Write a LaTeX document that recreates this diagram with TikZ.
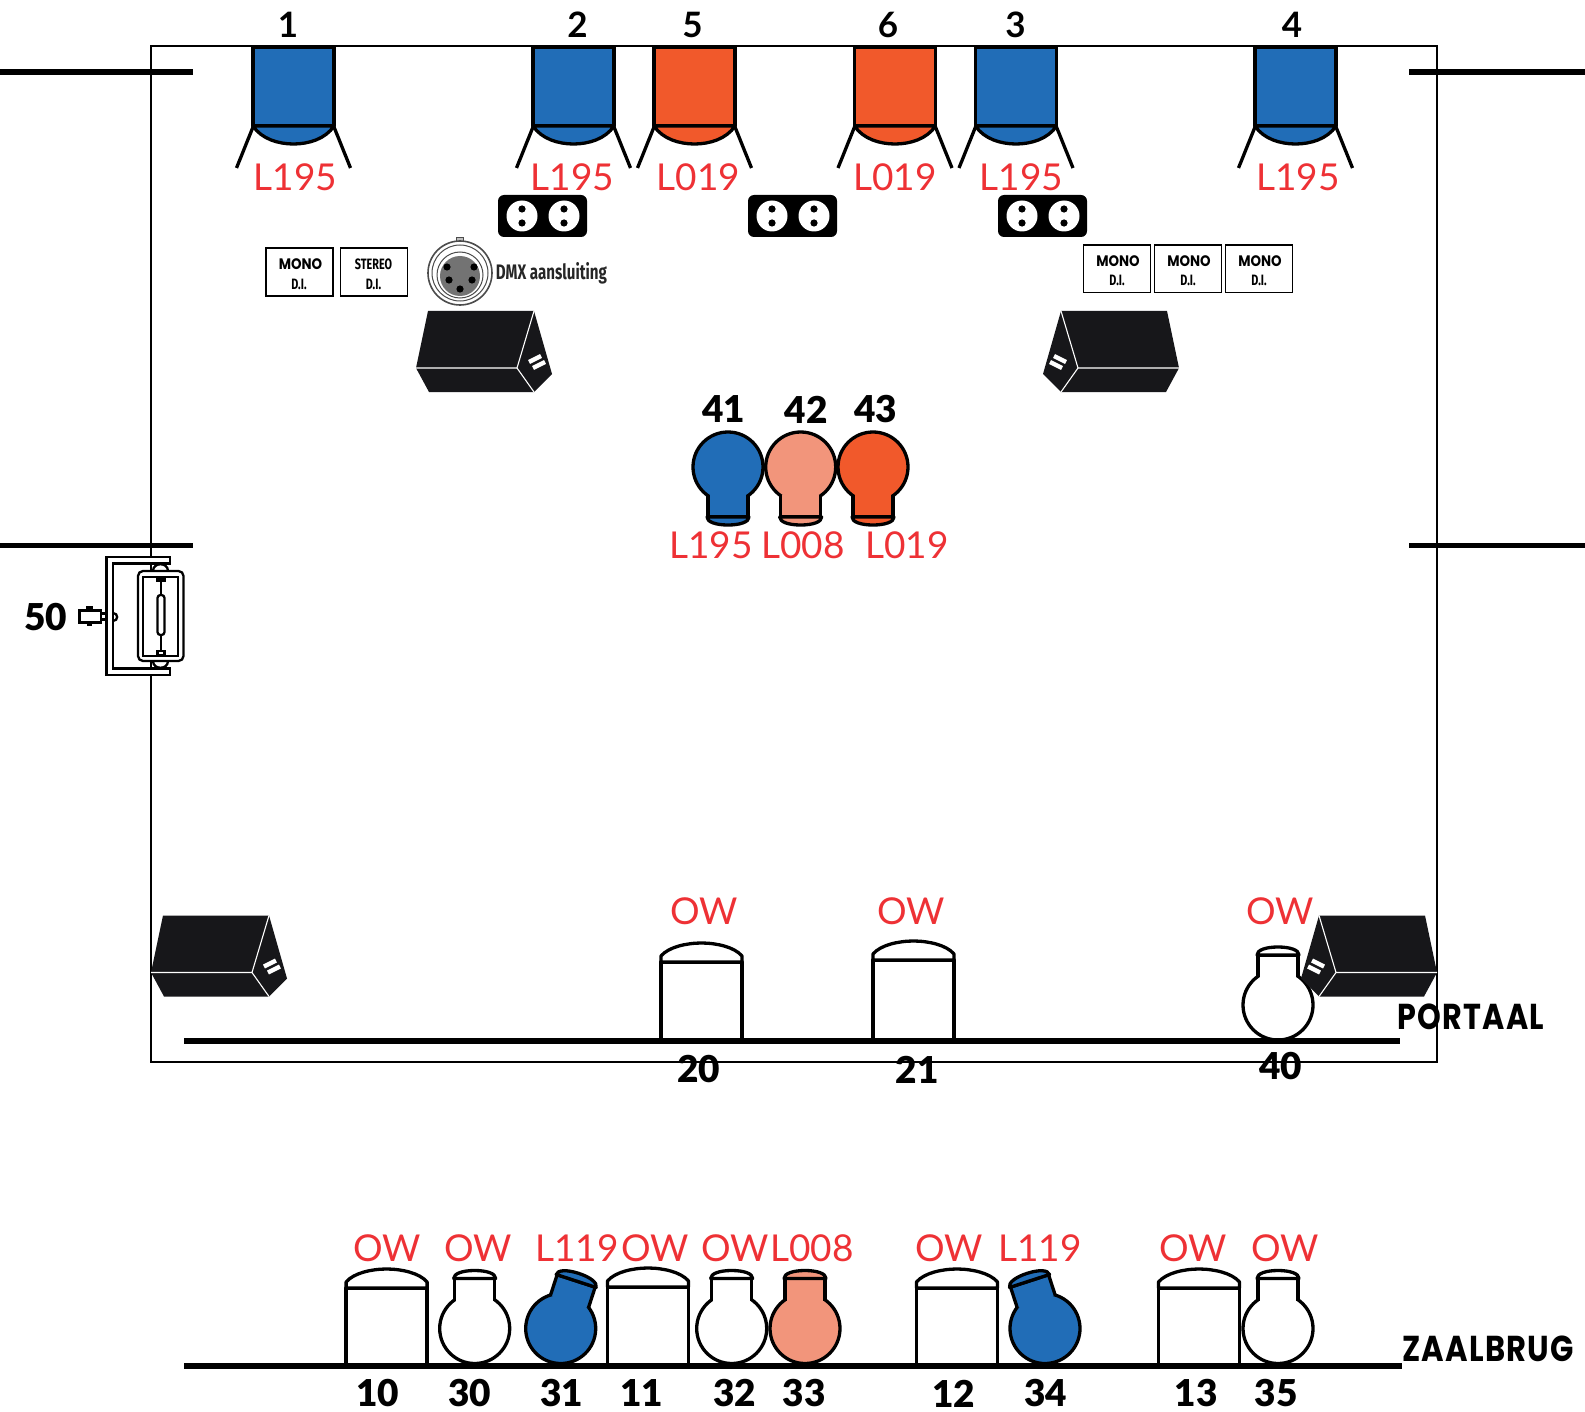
\documentclass[tikz,border=0pt]{standalone}
\usepackage{fontspec}
\usepackage{graphicx}
\setmainfont{Lato}
\newfontfamily\numfont{Lato Black}
\newfontfamily\geofont{Poppins}
\newfontfamily\geowide[LetterSpace=4]{Poppins}
\newfontfamily\condfont{Fira Sans}
\definecolor{lblue}{HTML}{216DB7}
\definecolor{lorange}{HTML}{F1592B}
\definecolor{lsalmon}{HTML}{F2957B}
\definecolor{lred}{HTML}{EE3135}
\definecolor{spk}{HTML}{17171A}
\newcommand{\sxx}[2]{\scalebox{#1}[1]{#2}}
\newcommand{\redl}[4]{\node[redlabel] (#1) at (#2,#3) {#4};}
\newcommand{\numl}[4]{\node[numlabel] (#1) at (#2,#3) {#4};}
\newcommand{\topl}[4]{\node[toplabel] (#1) at (#2,#3) {#4};}
\newcommand{\dibx}[3]{\node[diframe,anchor=north west] (#1) at (#2,#3) {};}
\newcommand{\dimono}[7]{%
  \node[ditop] (#1a) at (#2,#3) {\sxx{.88}{MONO}};
  \node[dibot] (#1b) at (#4,#5) {\sxx{.72}{D.I.}};}
\newcommand{\sockets}[2]{\pic at (#1,#2) {socketpair};}
\tikzset{
  x=0.5pt,y=-0.5pt,
  redlabel/.style={text=lred,inner sep=0pt,font=\fontsize{18.5}{20}\selectfont},
  numlabel/.style={text=black,inner sep=0pt,font=\numfont\fontsize{18.5}{20}\selectfont},
  toplabel/.style={text=black,inner sep=0pt,font=\bfseries\fontsize{17.5}{20}\selectfont},
  diframe/.style={draw=black,line width=0.8pt,fill=white,inner sep=0pt,minimum width=33.6pt,minimum height=23.8pt},
  ditop/.style={inner sep=0pt,font=\geofont\bfseries\fontsize{7.6}{9}\selectfont},
  dibot/.style={inner sep=0pt,font=\condfont\bfseries\fontsize{7.5}{9}\selectfont},
  outl/.style={draw=black,line width=1.65pt,line join=round},
  bar/.style={draw=black,line width=2.6pt},
  pics/bulb/.style={code={
    \path[outl,fill=#1] (0,0) circle[radius=35];
    \path[outl,fill=#1] (-20,-28) -- (-20,-50) -- (20,-50) -- (20,-28);
    \path[outl,fill=#1] (-21,-50) .. controls (-21,-55) and (-12,-58) .. (0,-58) .. controls (12,-58) and (21,-55) .. (21,-50) -- cycle;
  }},
  pics/hanglamp/.style={code={
    \path[outl,fill=#1] (-40.5,0) rectangle (40.5,79);
    \path[outl,fill=#1] (-40.5,79) .. controls (-32,92) and (-15,97) .. (0,97) .. controls (15,97) and (32,92) .. (40.5,79) -- cycle;
    \path[outl] (-40.5,80) -- (-57,121);
    \path[outl] (40.5,80) -- (57,121);
  }},
  pics/drum/.style={code={
    \path[outl,fill=white] (-40.5,79) -- (-40.5,0) -- (40.5,0) -- (40.5,79);
    \path[outl,fill=white] (-40.5,0) -- (-40.5,-6) .. controls (-33,-15) and (-15,-19) .. (0,-19) .. controls (15,-19) and (33,-15) .. (40.5,-6) -- (40.5,0) -- cycle;
  }},
  pics/speaker/.style={code={
    \path[fill=spk] (12,-57) -- (118,-57) -- (136,6) -- (118,24) -- (13,24) -- (0,0) -- cycle;
    \path[draw=white,line width=0.55pt] (0,0) -- (101,0) -- (118,-57);
    \path[draw=white,line width=0.55pt] (101,0) -- (118,24);
    \path[draw=white,line width=2.2pt] (113,-6) -- (125,-12);
    \path[draw=white,line width=2.2pt] (117,0) -- (129,-6);
  }},
  pics/socketpair/.style={code={
    \path[fill=black,rounded corners=3pt] (0,0) rectangle (89,42);
    \foreach \cx in {24,66}{
      \path[fill=white] (\cx,21) circle[radius=15.5];
      \path[fill=black] (\cx,14) circle[radius=3.6];
      \path[fill=black] (\cx,28) circle[radius=3.6];
    }
  }},
}
\begin{document}
\begin{tikzpicture}
\useasboundingbox (0,0) rectangle (1585,1412);
\path[fill=white] (0,0) rectangle (1585,1412);
% frame and side bars
\path[draw=black,line width=1pt] (151,46.5) rectangle (1437,1062);
\path[bar] (0,72) -- (192.5,72);
\path[bar] (0,545.5) -- (192.5,545.5);
\path[bar] (1409,72) -- (1585,72);
\path[bar] (1409,545.5) -- (1585,545.5);
% hanging lamps
\pic at (293.5,47) {hanglamp=lblue};
\pic at (573.5,47) {hanglamp=lblue};
\pic at (694.5,47) {hanglamp=lorange};
\pic at (895,47) {hanglamp=lorange};
\pic at (1016,47) {hanglamp=lblue};
\pic at (1295.5,47) {hanglamp=lblue};
\topl{t1}{288}{25}{1}
\topl{t2}{577.5}{25}{2}
\topl{t5}{692.5}{25}{5}
\topl{t6}{888}{25}{6}
\topl{t3}{1015.5}{25}{3}
\topl{t4}{1292}{25}{4}
\redl{r1}{295.5}{177.5}{L195}
\redl{r2}{572.5}{177.5}{L195}
\redl{r5}{698.5}{177.5}{L019}
\redl{r6}{895}{177.5}{L019}
\redl{r3}{1021.5}{177.5}{L195}
\redl{r4}{1298}{177.5}{L195}
% sockets
\sockets{498}{195}
\sockets{748}{195}
\sockets{998}{195}
% DI boxes
\dibx{da}{265}{247.5}
\dimono{da}{300.5}{264.5}{299}{284}{}{}
\dibx{db}{339.5}{247.5}
\node[dibot] (dbt) at (373.5,264) {\sxx{.72}{STEREO}};
\node[dibot] (dbd) at (373.5,284) {\sxx{.72}{D.I.}};
\dibx{dc}{1082.5}{244}
\dimono{dc}{1118}{261}{1117}{280}{}{}
\dibx{dd}{1153.5}{244}
\dimono{dd}{1189}{261}{1188}{280}{}{}
\dibx{de}{1224.5}{244}
\dimono{de}{1260}{261}{1259}{280}{}{}
% DMX connector
\path[draw=black!70,line width=0.5pt,fill=black!25] (456,238) rectangle (463,244);
\path[draw=black!70,line width=0.8pt,fill=white] (460,273) circle[radius=32];
\path[draw=black!70,line width=0.5pt] (460,273) circle[radius=28];
\path[draw=black!70,line width=0.5pt] (460,275) circle[radius=23];
\path[fill=black!55] (460,276) circle[radius=20];
\foreach \px/\py in {447/267,474/267,449/280,472/280,460/289}{
  \path[fill=black] (\px,\py) circle[radius=3.6];
}
\node[inner sep=0pt,anchor=west,font=\condfont\bfseries\fontsize{10.5}{12}\selectfont,text=black!85] (dmx) at (495.5,273) {\sxx{.72}{DMX aansluiting}};
% speakers
\pic at (416,368) {speaker};
\pic[xscale=-1] at (1179,368) {speaker};
\pic at (151,972.5) {speaker};
% centre bulbs
\pic[rotate=180] at (728,467) {bulb=lblue};
\pic[rotate=180] at (800.7,467) {bulb=lsalmon};
\pic[rotate=180] at (873,467) {bulb=lorange};
\numl{n41}{723.5}{409.5}{41}
\numl{n42}{806}{409.5}{42}
\numl{n43}{875.5}{409.5}{43}
\redl{r41}{711}{545.5}{L195}
\redl{r42}{803}{545.5}{L008}
\redl{r43}{907}{545.5}{L019}
% moving head 50
\begin{scope}[line width=1.15pt,draw=black]
\path[draw,fill=white] (170,557) -- (106.5,557) -- (106.5,675) -- (170,675) -- (170,668.5) -- (113,668.5) -- (113,563.5) -- (170,563.5) -- cycle;
\path[draw,fill=white] (153,571) .. controls (153,562) and (168,562) .. (168,571);
\path[draw,fill=white] (153,661) .. controls (153,670) and (168,670) .. (168,661);
\path[draw,fill=white,rounded corners=2.5pt] (138,571) rectangle (183.5,661);
\path[draw,fill=white] (143,577) rectangle (178,656);
\path[draw,fill=white,rounded corners=1.5pt] (157.5,595) rectangle (164.5,635);
\path[draw] (161,580) -- (161,595);
\path[draw] (161,635) -- (161,651);
\path[draw,fill=white] (157.5,577.5) rectangle (164.5,580.5);
\path[draw,fill=white] (157.5,651) rectangle (164.5,655.5);
\path[draw,fill=white] (79.5,610.5) rectangle (101,622.5);
\path[draw] (86,607.5) -- (93,607.5);
\path[draw] (89.5,607.5) -- (89.5,610.5);
\path[draw] (87,624.5) -- (92,624.5);
\path[draw,fill=white] (101,613.5) rectangle (106.5,619.5);
\path[draw] (113,613) .. controls (118.5,613) and (118.5,621) .. (113,621);
\end{scope}
\numl{n50}{46}{617}{50}
% portaal
\pic at (701.5,962) {drum};
\pic at (913.5,960) {drum};
\pic at (1278,1005) {bulb=white};
\pic[xscale=-1] at (1437,972.5) {speaker};
\path[bar] (184,1041) -- (1400,1041);
\redl{o20}{704}{911.5}{OW}
\redl{o21}{911}{911.5}{OW}
\redl{o40}{1280}{911.5}{OW}
\numl{n20}{698.5}{1069.5}{20}
\numl{n21}{917}{1069.5}{21}
\numl{n40}{1280.5}{1066.5}{40}
\node[inner sep=0pt,font=\geowide\bfseries\fontsize{18}{20}\selectfont] (portaal) at (1471,1017) {\sxx{.84}{PORTAAL}};
% zaalbrug
\pic at (386.6,1288) {drum};
\pic at (648,1287) {drum};
\pic at (957,1288) {drum};
\pic at (1199,1288) {drum};
\pic at (474.7,1328.5) {bulb=white};
\pic[rotate=-18] at (560.7,1328.5) {bulb=lblue};
\pic at (731.7,1328.5) {bulb=white};
\pic at (805,1328.5) {bulb=lsalmon};
\pic[rotate=18] at (1045,1328.5) {bulb=lblue};
\pic at (1278,1328.5) {bulb=white};
\path[bar] (184,1366) -- (1402,1366);
\redl{z1}{387}{1248.5}{OW}
\redl{z2}{478}{1248.5}{OW}
\redl{z3}{577}{1248.5}{L119}
\redl{z4}{655}{1248.5}{OW}
\redl{z5}{735}{1248.5}{OW}
\redl{z6}{812}{1248.5}{L008}
\redl{z7}{949}{1248.5}{OW}
\redl{z8}{1040}{1248.5}{L119}
\redl{z9}{1193}{1248.5}{OW}
\redl{z10}{1285}{1248.5}{OW}
\numl{n10}{377.5}{1393.5}{10}
\numl{n30}{469.5}{1393.5}{30}
\numl{n31}{561.5}{1393.5}{31}
\numl{n11}{641.5}{1393.5}{11}
\numl{n32}{734.5}{1393.5}{32}
\numl{n33}{804}{1393.5}{33}
\numl{n12}{953.5}{1393.5}{12}
\numl{n34}{1045.5}{1393.5}{34}
\numl{n13}{1196}{1393.5}{13}
\numl{n35}{1276}{1393.5}{35}
\node[inner sep=0pt,font=\geowide\bfseries\fontsize{18}{20}\selectfont] (zaalbrug) at (1488,1349) {\sxx{.85}{ZAALBRUG}};
\end{tikzpicture}
\end{document}
